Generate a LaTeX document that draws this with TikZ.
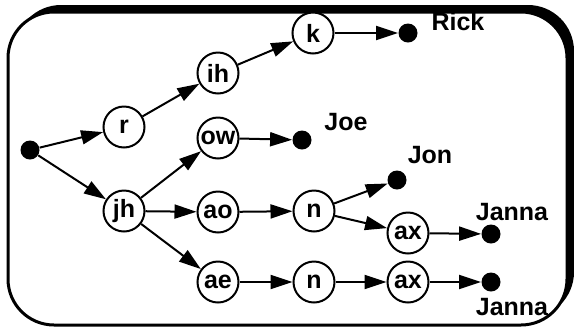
\documentclass[tikz,border=0pt]{standalone}
\usepackage{fontspec}
\setmainfont{Liberation Sans}
\usetikzlibrary{arrows.meta}
\begin{document}
\begin{tikzpicture}[x=0.5pt,y=-0.5pt,
  phone/.style={circle,draw,line width=1pt,minimum size=20.5pt,inner sep=0pt,
    fill=white,font=\bfseries\fontsize{12.5}{12.5}\selectfont},
  endpt/.style={circle,fill=black,minimum size=9.5pt,inner sep=0pt},
  word/.style={font=\bfseries\fontsize{12.5}{12.5}\selectfont},
  arc/.style={line width=1pt,-{Triangle[length=11pt,width=7pt]}}]
\useasboundingbox (0,0) rectangle (574,328);
% framed panel with a solid shadow
\fill[black,rounded corners=23pt] (15,5) rectangle (574,318);
\draw[fill=white,line width=1.5pt,rounded corners=23pt] (8,12) rectangle (567,325);

% pronunciation network
\node[endpt] (s) at (30,150) {};
\node[phone] (r) at (124,127) {r};
\node[phone] (ih) at (218,73) {ih};
\node[phone] (k) at (313,33) {k};
\node[endpt] (rick) at (408,33) {};
\node[phone] (jh) at (124,211) {jh};
\node[phone] (ow) at (218,138) {ow};
\node[endpt] (joe) at (302,140) {};
\node[phone] (ao) at (218,212) {ao};
\node[phone] (n1) at (314,211) {n};
\node[endpt] (jon) at (397,180) {};
\node[phone] (ax1) at (408,233) {ax};
\node[endpt] (janna1) at (491,234) {};
\node[phone] (ae) at (218,282) {ae};
\node[phone] (n2) at (314,282) {n};
\node[phone] (ax2) at (408,282) {ax};
\node[endpt] (janna2) at (491,282) {};

% word labels
\node[word] (lrick) at (458,22) {Rick};
\node[word] (ljoe) at (346,122) {Joe};
\node[word] (ljon) at (430,155) {Jon};
\node[word] (ljanna1) at (512,212) {Janna};
\node[word] (ljanna2) at (512,307) {Janna};

% transitions
\draw[arc] (s) -- (r);
\draw[arc] (s) -- (jh);
\draw[arc] (r) -- (ih);
\draw[arc] (ih) -- (k);
\draw[arc] (k) -- (rick);
\draw[arc] (jh) -- (ow);
\draw[arc] (jh) -- (ao);
\draw[arc] (jh) -- (ae);
\draw[arc] (ow) -- (joe);
\draw[arc] (ao) -- (n1);
\draw[arc] (n1) -- (jon);
\draw[arc] (n1) -- (ax1);
\draw[arc] (ax1) -- (janna1);
\draw[arc] (ae) -- (n2);
\draw[arc] (n2) -- (ax2);
\draw[arc] (ax2) -- (janna2);
\end{tikzpicture}
\end{document}
